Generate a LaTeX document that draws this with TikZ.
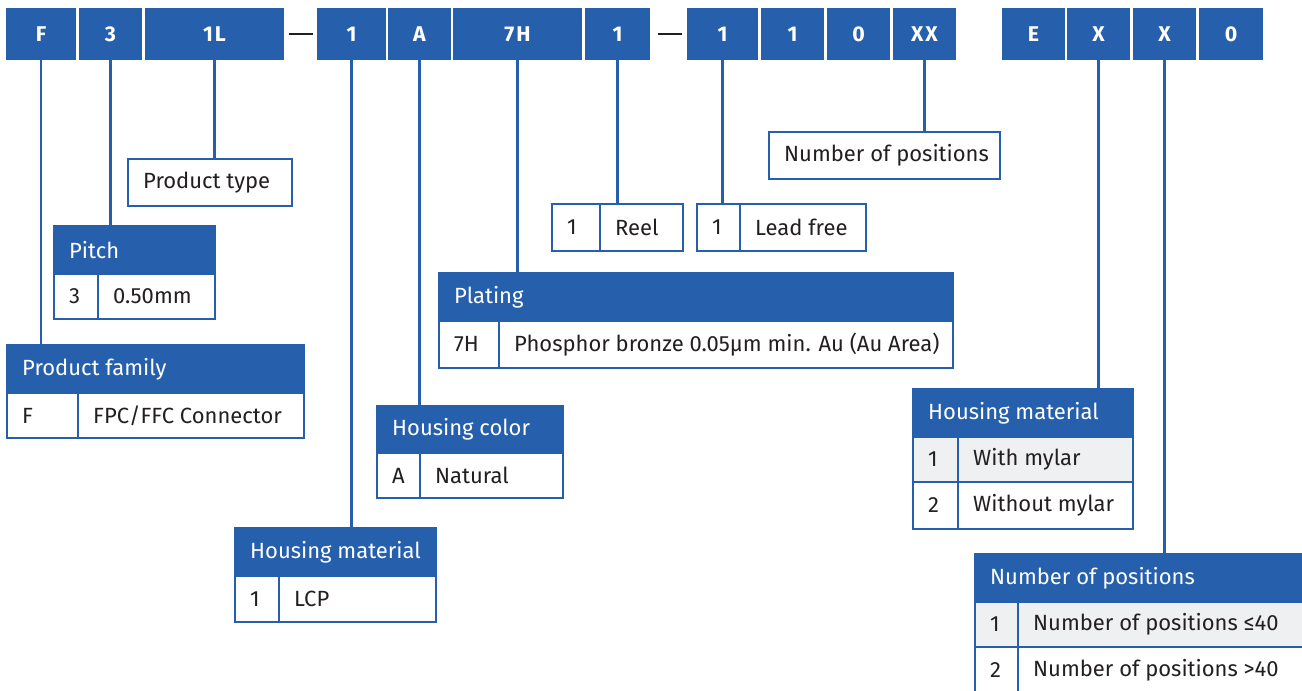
\documentclass[tikz,border=0pt]{standalone}
\usepackage{fontspec}
\setmainfont{Fira Sans}
\usetikzlibrary{fit}
\definecolor{brandblue}{RGB}{38,95,172}
\definecolor{ink}{RGB}{35,31,32}
\definecolor{rowgray}{RGB}{239,240,242}
\tikzset{
  x=0.75pt, y=-0.75pt,
  bar/.style={fill=brandblue, draw=none, inner sep=0pt},
  bartxt/.style={text=white, inner sep=0pt, font=\bfseries\fontsize{16}{19}\selectfont},
  hdr/.style={fill=brandblue, draw=brandblue, line width=1.6pt, inner sep=0pt},
  cellw/.style={fill=white, draw=brandblue, line width=1.6pt, inner sep=0pt},
  cellg/.style={fill=rowgray, draw=brandblue, line width=1.6pt, inner sep=0pt},
  htxt/.style={text=white, font=\fontsize{16.5}{20}\selectfont, anchor=west, inner sep=0pt},
  ctxt/.style={text=ink, font=\fontsize{16.5}{20}\selectfont, anchor=west, inner sep=0pt},
  link/.style={draw=brandblue, line width=1.6pt},
  dashline/.style={draw=ink, line width=2.2pt},
}
\newcommand\cellnode[4]{\node[#2, fit={#3 #4}] (#1) {};}
\newcommand\celltext[3]{\node[#2] (#1-t) at ([xshift=12pt]#1.west) {#3};}
\newcommand\barnode[4]{\node[bar, fit={(#2,8) (#3,60)}] (#1) {};
  \node[bartxt] (#1-t) at (#1.center) {\vphantom{X}#4};}
\begin{document}
\begin{tikzpicture}
\useasboundingbox (0,0) rectangle (1302,691);
\clip (0,0) rectangle (1302,691);

% top code bar
\barnode{tF}{6}{76}{F}
\barnode{t3}{79}{142}{3}
\barnode{t1L}{145}{284}{1\hspace{1.5pt}L}
\barnode{t1a}{317}{386}{1}
\barnode{tA}{388}{451}{A}
\barnode{t7H}{453}{582}{7\hspace{1.5pt}H}
\barnode{t1b}{585}{650}{1}
\barnode{t1c}{687}{758}{1}
\barnode{t1d}{761}{824}{1}
\barnode{t0a}{827}{890}{0}
\barnode{tXX}{893}{956}{X\hspace{1.5pt}X}
\barnode{tE}{1002}{1065}{E}
\barnode{tXa}{1067}{1130}{X}
\barnode{tXb}{1133}{1196}{X}
\barnode{t0b}{1199}{1263}{0}
\draw[dashline] ([xshift=3.7pt]t1L.east) -- ([xshift=-3pt]t1a.west);
\draw[dashline] ([xshift=5.5pt]t1b.east) -- ([xshift=-3.7pt]t1c.west);

% Product type
\cellnode{pt}{cellw}{(128,159)}{(292,206)}
\celltext{pt}{ctxt}{Product type}

% Pitch
\cellnode{piH}{hdr}{(54,226)}{(215,274)}
\cellnode{piK}{cellw}{(54,274)}{(98,319)}
\cellnode{piV}{cellw}{(98,274)}{(215,319)}
\celltext{piH}{htxt}{Pitch}
\celltext{piK}{ctxt}{3}
\celltext{piV}{ctxt}{0.50mm}

% Product family
\cellnode{pfH}{hdr}{(7,345)}{(304,393)}
\cellnode{pfK}{cellw}{(7,393)}{(78,438)}
\cellnode{pfV}{cellw}{(78,393)}{(304,438)}
\celltext{pfH}{htxt}{Product family}
\celltext{pfK}{ctxt}{F}
\celltext{pfV}{ctxt}{FPC/FFC Connector}

% Plating
\cellnode{plH}{hdr}{(439,273)}{(953,321)}
\cellnode{plK}{cellw}{(439,321)}{(499,368)}
\cellnode{plV}{cellw}{(499,321)}{(953,368)}
\celltext{plH}{htxt}{Plating}
\celltext{plK}{ctxt}{7H}
\celltext{plV}{ctxt}{Phosphor bronze 0.05µm min. Au (Au Area)}

% Housing color
\cellnode{hcH}{hdr}{(377,406)}{(563,453)}
\cellnode{hcK}{cellw}{(377,453)}{(420,498)}
\cellnode{hcV}{cellw}{(420,453)}{(563,498)}
\celltext{hcH}{htxt}{Housing color}
\celltext{hcK}{ctxt}{A}
\celltext{hcV}{ctxt}{Natural}

% Housing material (LCP)
\cellnode{hmH}{hdr}{(235,528)}{(436,576)}
\cellnode{hmK}{cellw}{(235,576)}{(279,622)}
\cellnode{hmV}{cellw}{(279,576)}{(436,622)}
\celltext{hmH}{htxt}{Housing material}
\celltext{hmK}{ctxt}{1}
\celltext{hmV}{ctxt}{LCP}

% Reel
\cellnode{rlK}{cellw}{(552,204)}{(600,251)}
\cellnode{rlV}{cellw}{(600,204)}{(683,251)}
\celltext{rlK}{ctxt}{1}
\celltext{rlV}{ctxt}{Reel}

% Lead free
\cellnode{lfK}{cellw}{(697,204)}{(740,251)}
\cellnode{lfV}{cellw}{(740,204)}{(866,251)}
\celltext{lfK}{ctxt}{1}
\celltext{lfV}{ctxt}{Lead free}

% Number of positions (top)
\cellnode{np}{cellw}{(769,132)}{(1000,179)}
\celltext{np}{ctxt}{Number of positions}

% Housing material (mylar)
\cellnode{myH}{hdr}{(913,389)}{(1133,437)}
\cellnode{myAK}{cellg}{(913,437)}{(958,482)}
\cellnode{myAV}{cellg}{(958,437)}{(1133,482)}
\cellnode{myBK}{cellw}{(913,482)}{(958,529)}
\cellnode{myBV}{cellw}{(958,482)}{(1133,529)}
\celltext{myH}{htxt}{Housing material}
\celltext{myAK}{ctxt}{1}
\celltext{myAV}{ctxt}{With mylar}
\celltext{myBK}{ctxt}{2}
\celltext{myBV}{ctxt}{Without mylar}

% Number of positions (bottom)
\cellnode{nbH}{hdr}{(975,554)}{(1312,602)}
\cellnode{nbAK}{cellg}{(975,602)}{(1018,647)}
\cellnode{nbAV}{cellg}{(1018,602)}{(1312,647)}
\cellnode{nbBK}{cellw}{(975,647)}{(1018,694)}
\cellnode{nbBV}{cellw}{(1018,647)}{(1312,694)}
\celltext{nbH}{htxt}{Number of positions}
\celltext{nbAK}{ctxt}{1}
\celltext{nbAV}{ctxt}{Number of positions ≤40}
\celltext{nbBK}{ctxt}{2}
\celltext{nbBV}{ctxt}{Number of positions >40}

% connectors
\draw[link] (tF.south) -- (tF.south |- pfH.north);
\draw[link] (t3.south) -- (t3.south |- piH.north);
\draw[link] (t1L.south) -- (t1L.south |- pt.north);
\draw[link] (t1a.south) -- (t1a.south |- hmH.north);
\draw[link] (tA.south) -- (tA.south |- hcH.north);
\draw[link] (t7H.south) -- (t7H.south |- plH.north);
\draw[link] (t1b.south) -- (t1b.south |- rlV.north);
\draw[link] (t1c.south) -- (t1c.south |- lfK.north);
\draw[link] (tXX.south) -- (tXX.south |- np.north);
\draw[link] (tXa.south) -- (tXa.south |- myH.north);
\draw[link] (tXb.south) -- (tXb.south |- nbH.north);
\end{tikzpicture}
\end{document}
